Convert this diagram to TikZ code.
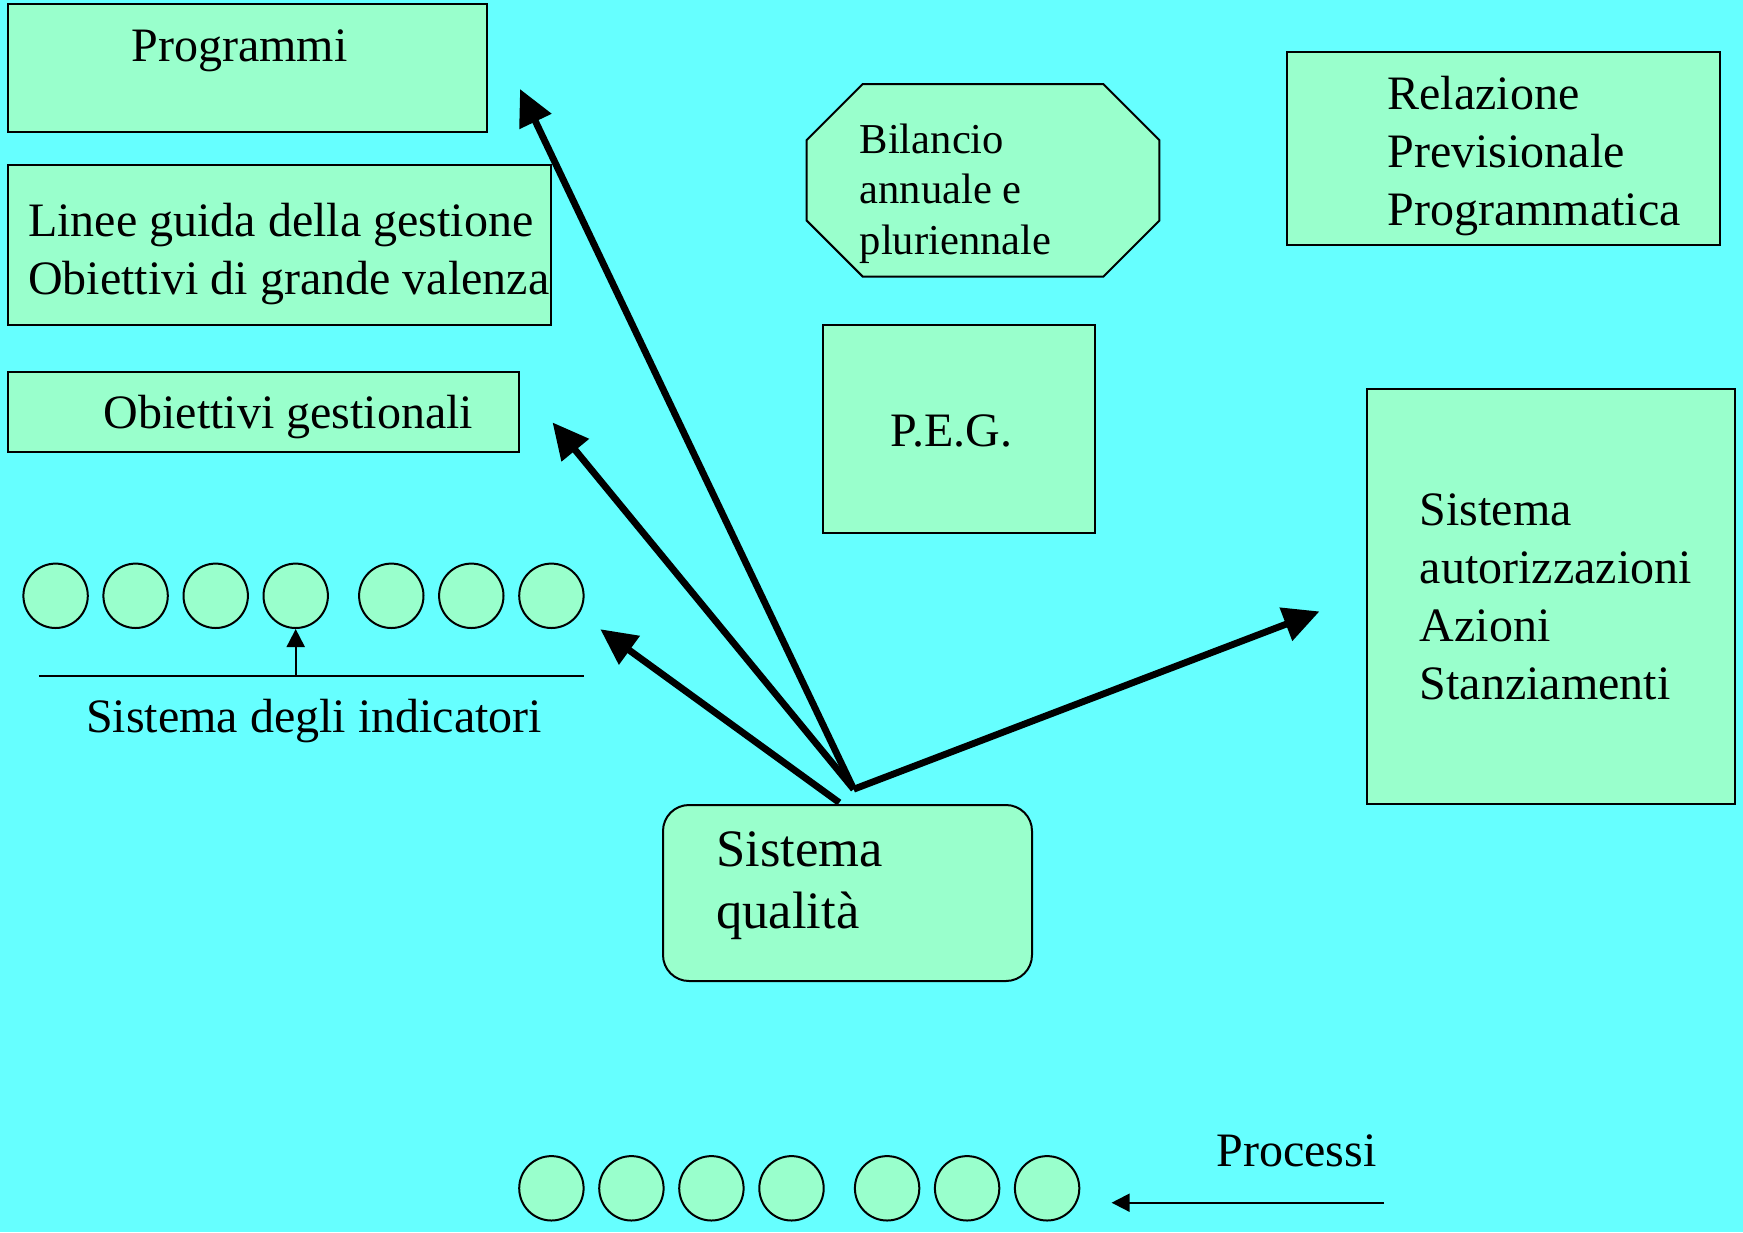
\documentclass[tikz,border=0pt]{standalone}
\usepackage{fontspec}
\setmainfont{Liberation Serif}
\usetikzlibrary{arrows.meta}
\definecolor{sfondo}{HTML}{66FFFF}
\definecolor{verde}{HTML}{99FFCC}

\begin{document}
\begin{tikzpicture}[x=0.5pt,y=-0.5pt,
    box/.style={draw,fill=verde,line width=1pt,inner sep=0pt},
    txt/.style={anchor=base west,inner sep=0pt,align=left,font=\fontsize{24}{28.9}\selectfont},
    pallino/.style={circle,draw,fill=verde,line width=1pt,minimum size=32.2pt,inner sep=0pt},
    freccia/.style={line width=3.4pt,-{Triangle[length=18pt,width=17pt]}},
    sottile/.style={line width=1pt,-{Triangle[length=9pt,width=9pt]}}]
                \fill[sfondo] (0,0) rectangle (1743,1232);
                \useasboundingbox (0,0) rectangle (1743,1232);
                % riquadri
                \node[box,minimum width=239.5pt,minimum height=64pt] (prog) at (247.4,68.2) {};
                \node[box,minimum width=271.6pt,minimum height=80pt] (linee) at (279.4,244.6) {};
                \node[box,minimum width=255.6pt,minimum height=40pt] (obi) at (263.4,412) {};
                \node[inner sep=0pt,minimum width=176pt,minimum height=95.8pt] (bil) at (983,180.3) {};
                \draw[box] ([xshift=28pt]bil.north west) -- ([xshift=-28pt]bil.north east) -- ([yshift=-28pt]bil.north east)
                    -- ([yshift=28pt]bil.south east) -- ([xshift=-28pt]bil.south east) -- ([xshift=28pt]bil.south west)
                    -- ([yshift=28pt]bil.south west) -- ([yshift=-28pt]bil.north west) -- cycle;
                \node[box,minimum width=216.5pt,minimum height=96.3pt] (rel) at (1503.5,148.3) {};
                \node[box,minimum width=136.2pt,minimum height=104pt] (peg) at (958.8,428.5) {};
                \node[box,minimum width=184pt,minimum height=207.5pt] (aut) at (1551,596.5) {};
                \node[box,rounded corners=13pt,minimum width=184.5pt,minimum height=88pt] (qual) at (847.5,893) {};
                % testi (base = ultima riga)
                \node[txt] (tprog) at (131,61) {Programmi};
                \node[txt] (tlinee) at (27.8,294.5) {Linee guida della gestione\\Obiettivi di grande valenza};
                \node[txt] (tobi) at (103.4,428) {Obiettivi gestionali};
                \node[txt,font=\fontsize{21.3}{25.3}\selectfont] (tbil) at (859.3,254.5) {Bilancio\\annuale e\\pluriennale};
                \node[txt] (trel) at (1387,225.5) {Relazione\\Previsionale\\Programmatica};
                \node[txt] (tpeg) at (890.4,446) {P.E.G.};
                \node[txt] (taut) at (1419.5,699) {Sistema\\autorizzazioni\\Azioni\\Stanziamenti};
                \node[txt,font=\fontsize{26.3}{31}\selectfont] (tqual) at (715.9,928) {Sistema\\qualità};
                \node[txt] (tind) at (85.6,732.5) {Sistema degli indicatori};
                \node[txt] (tproc) at (1216,1166) {Processi};
                % indicatori e processi
                \foreach \i/\x in {1/55.6,2/135.6,3/215.7,4/295.7,5/391.3,6/471.3,7/551.4}
                    \node[pallino] (t\i) at (\x,595.8) {};
                \foreach \i/\x in {1/551.4,2/631.4,3/711.4,4/791.5,5/887.1,6/967.1,7/1047.1}
                    \node[pallino] (p\i) at (\x,1188.3) {};
                \coordinate (indl) at (38.9,675.9);
                \coordinate (indr) at (583.6,675.9);
                \draw[line width=1pt] (indl) -- (indr);
                \draw[sottile] (t4 |- indl) -- (t4.south);
                \coordinate (procr) at (1384,1202.7);
                \coordinate (procl) at (1111.6,1202.7);
                \draw[sottile] (procr) -- (procl);
                % frecce
                \coordinate (hub) at (853.7,789.2);
                \coordinate (hubb) at (839.3,802.6);
                \coordinate (aprog) at (520,89);
                \coordinate (aobi) at (552.5,422.4);
                \coordinate (aind) at (600.3,629.2);
                \coordinate (aaut) at (1319.5,611.4);
                \draw[freccia] (hub) -- (aprog);
                \draw[freccia] (hub) -- (aobi);
                \draw[freccia] (hubb) -- (aind);
                \draw[freccia] (hub) -- (aaut);
            \end{tikzpicture}
\end{document}
